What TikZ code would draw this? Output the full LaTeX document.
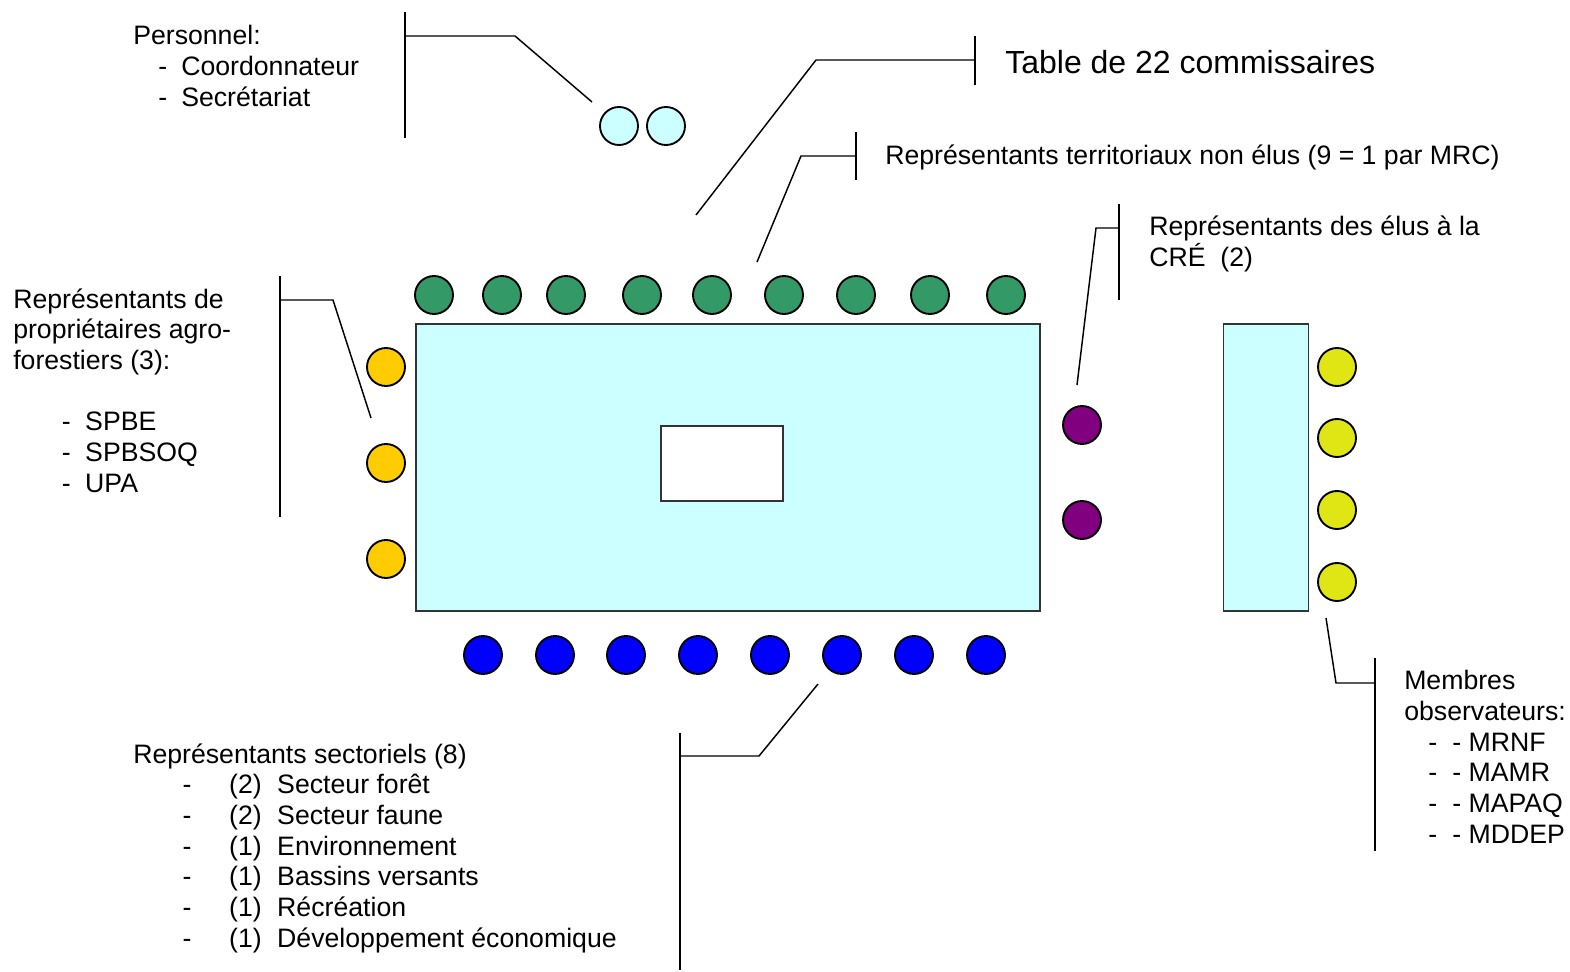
\documentclass[tikz,border=0pt]{standalone}
\usepackage{fontspec}
\setmainfont{Liberation Sans}
\usepackage{xcolor}
\usepackage{tikz}
\usetikzlibrary{positioning}

\definecolor{tablecyan}{HTML}{CCFFFF}
\definecolor{seatgreen}{HTML}{339966}
\definecolor{seatgold}{HTML}{FFCC00}
\definecolor{seatpurple}{HTML}{800080}
\definecolor{seatlime}{HTML}{E0E614}
\definecolor{seatblue}{HTML}{0000FF}

% dash then text, #1 = text offset, #2 = dash offset
\newcommand{\tiret}[2]{\makebox[#1][l]{\hspace*{#2}-}}

\begin{document}
\begin{tikzpicture}[x=0.75pt, y=-0.75pt, every node/.style={align=left}]
\tikzset{
  seat/.style={circle, draw, line width=1.4pt, minimum size=28.5pt, inner sep=0pt},
  terr/.style={seat, fill=seatgreen},
  agro/.style={seat, fill=seatgold},
  elus/.style={seat, fill=seatpurple},
  obsv/.style={seat, fill=seatlime},
  sect/.style={seat, fill=seatblue},
  pers/.style={seat, fill=tablecyan},
  tablebox/.style={draw=black!80, line width=1.4pt, inner sep=0pt},
  txt/.style={anchor=base west, inner sep=0pt, font=\fontsize{20}{23}\selectfont},
  lead/.style={line width=1.1pt}
}
\useasboundingbox (0,0) rectangle (1570,971);

% tables
\node[tablebox, fill=tablecyan, minimum width=468pt, minimum height=215.25pt] (grande) at (728,467.5) {};
\node[tablebox, fill=white, minimum width=91.5pt, minimum height=56.25pt] (centre) at (722,463.5) {};
\node[tablebox, fill=tablecyan, minimum width=63.75pt, minimum height=215.25pt] (petite) at (1266,467.5) {};

% personnel
\node[pers] (pers1) at (619,126) {};
\node[pers] (pers2) at (666,126) {};

% territoriaux
\node[terr] (terr1) at (434,295) {};
\node[terr] (terr2) at (502,295) {};
\node[terr] (terr3) at (566,295) {};
\node[terr] (terr4) at (642,295) {};
\node[terr] (terr5) at (712,295) {};
\node[terr] (terr6) at (784,295) {};
\node[terr] (terr7) at (856,295) {};
\node[terr] (terr8) at (930,295) {};
\node[terr] (terr9) at (1006,295) {};

% agro-forestiers
\node[agro] (agro1) at (386,367) {};
\node[agro] (agro2) at (386,463) {};
\node[agro] (agro3) at (386,559) {};

% elus CRE
\node[elus] (elus1) at (1082,425) {};
\node[elus] (elus2) at (1082,520) {};

% observateurs
\node[obsv] (obsv1) at (1337,367) {};
\node[obsv] (obsv2) at (1337,438) {};
\node[obsv] (obsv3) at (1337,510) {};
\node[obsv] (obsv4) at (1337,582) {};

% sectoriels
\node[sect] (sect1) at (483,655) {};
\node[sect] (sect2) at (555,655) {};
\node[sect] (sect3) at (626,655) {};
\node[sect] (sect4) at (698,655) {};
\node[sect] (sect5) at (770,655) {};
\node[sect] (sect6) at (842,655) {};
\node[sect] (sect7) at (914,655) {};
\node[sect] (sect8) at (986,655) {};

% leaders
\coordinate (persT) at (405,12);
\coordinate (persB) at (405,138);
\coordinate (persK) at (515,36);
\coordinate (persE) at (592,102);
\draw[lead] (persT) -- (persB);
\draw[lead] (persT |- persK) -- (persK) -- (persE);

\coordinate (tabT) at (975,36);
\coordinate (tabB) at (975,85);
\coordinate (tabK) at (816,60);
\coordinate (tabE) at (696,215);
\draw[lead] (tabT) -- (tabB);
\draw[lead] (tabT |- tabK) -- (tabK) -- (tabE);

\coordinate (terrT) at (856,132);
\coordinate (terrB) at (856,180);
\coordinate (terrK) at (801,156);
\coordinate (terrE) at (757,262);
\draw[lead] (terrT) -- (terrB);
\draw[lead] (terrT |- terrK) -- (terrK) -- (terrE);

\coordinate (elusT) at (1119,204);
\coordinate (elusB) at (1119,300);
\coordinate (elusK) at (1096,228);
\coordinate (elusE) at (1077,385);
\draw[lead] (elusT) -- (elusB);
\draw[lead] (elusT |- elusK) -- (elusK) -- (elusE);

\coordinate (agroT) at (280,276);
\coordinate (agroB) at (280,517);
\coordinate (agroK) at (333,300);
\coordinate (agroE) at (371,418);
\draw[lead] (agroT) -- (agroB);
\draw[lead] (agroT |- agroK) -- (agroK) -- (agroE);

\coordinate (obsvT) at (1375,658);
\coordinate (obsvB) at (1375,851);
\coordinate (obsvK) at (1336,683);
\coordinate (obsvE) at (1326,618);
\draw[lead] (obsvT) -- (obsvB);
\draw[lead] (obsvT |- obsvK) -- (obsvK) -- (obsvE);

\coordinate (sectT) at (680,733);
\coordinate (sectB) at (680,970);
\coordinate (sectK) at (759,756);
\coordinate (sectE) at (818,684);
\draw[lead] (sectT) -- (sectB);
\draw[lead] (sectT |- sectK) -- (sectK) -- (sectE);

% texts (anchored on the baseline of their last line)
\node[txt] (persText) at (133,106) {Personnel:\\
  \tiret{36pt}{18.75pt}Coordonnateur\\
  \tiret{36pt}{18.75pt}Secrétariat};
\node[txt, font=\fontsize{24}{28}\selectfont] (tabText) at (1005,73) {Table de 22 commissaires};
\node[txt] (terrText) at (885,164) {Représentants territoriaux non élus (9 = 1 par MRC)};
\node[txt] (elusText) at (1149,266) {Représentants des élus à la\\CRÉ\ \ (2)};
\node[txt] (agroText) at (13,492) {Représentants de\\
  propriétaires agro-\\
  forestiers (3):\\[23pt]
  \tiret{54pt}{36.5pt}SPBE\\
  \tiret{54pt}{36.5pt}SPBSOQ\\
  \tiret{54pt}{36.5pt}UPA};
\node[txt] (obsvText) at (1404,843) {Membres\\
  observateurs:\\
  \tiret{36pt}{18pt}- MRNF\\
  \tiret{36pt}{18pt}- MAMR\\
  \tiret{36pt}{18pt}- MAPAQ\\
  \tiret{36pt}{18pt}- MDDEP};
\node[txt] (sectText) at (133,947) {Représentants sectoriels (8)\\
  \tiret{72pt}{37pt}\makebox[36pt][l]{(2)}Secteur forêt\\
  \tiret{72pt}{37pt}\makebox[36pt][l]{(2)}Secteur faune\\
  \tiret{72pt}{37pt}\makebox[36pt][l]{(1)}Environnement\\
  \tiret{72pt}{37pt}\makebox[36pt][l]{(1)}Bassins versants\\
  \tiret{72pt}{37pt}\makebox[36pt][l]{(1)}Récréation\\
  \tiret{72pt}{37pt}\makebox[36pt][l]{(1)}Développement économique};
\end{tikzpicture}
\end{document}
